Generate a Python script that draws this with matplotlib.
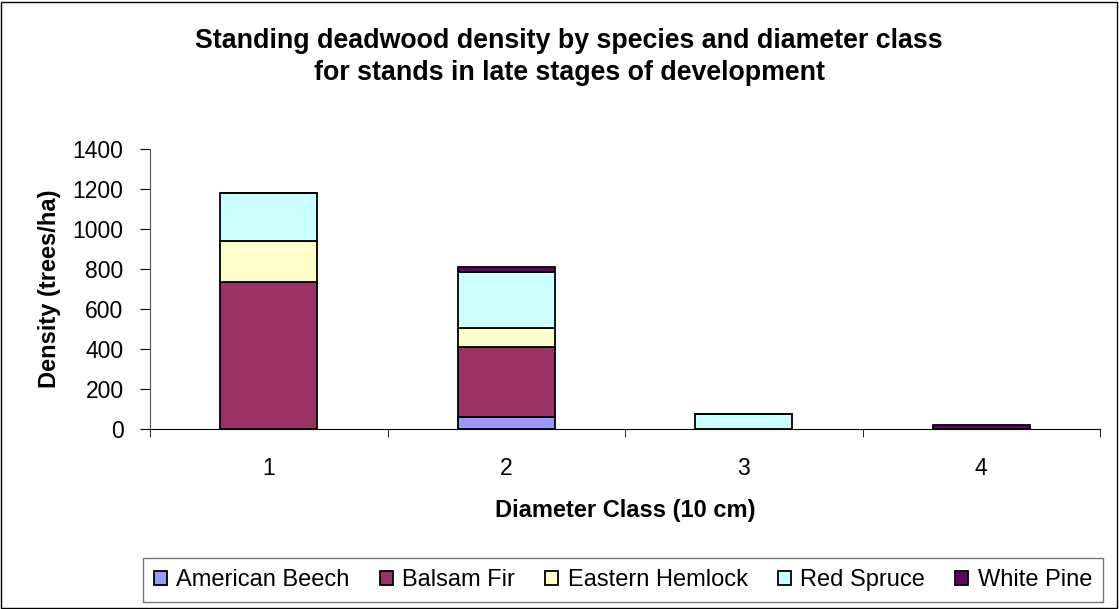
import numpy as np
from matplotlib import pyplot as plt
from matplotlib.patches import Rectangle

plt.rcParams['font.family'] = ['Liberation Sans', 'DejaVu Sans']

classes = ['1', '2', '3', '4']
species = ['American Beech', 'Balsam Fir', 'Eastern Hemlock', 'Red Spruce', 'White Pine']
beech = [0, 60, 0, 0]
balsam = [735, 350, 0, 0]
hemlock = [205, 95, 0, 0]
spruce = [240, 280, 75, 0]
wpine = [0, 25, 0, 22]
colors = ['#9999FF', '#993366', '#FFFFCC', '#CCFFFF', '#660066']

fig = plt.figure(figsize=(11.19, 6.09), dpi=100)
fig.patches.append(Rectangle((0.001, 0.002), 0.997, 0.995, transform=fig.transFigure,
                             fill=False, edgecolor='black', linewidth=1))
ax = fig.add_axes([150 / 1119, 1 - 429 / 609, 950 / 1119, 280 / 609])

x = np.arange(len(classes))
bottom = np.zeros(len(classes))
for name, vals, c in zip(species, [beech, balsam, hemlock, spruce, wpine], colors):
    ax.bar(x, vals, width=0.41, bottom=bottom, color=c, edgecolor='black',
           linewidth=1.3, label=name)
    bottom += np.array(vals)

ax.set_xlim(-0.5, 3.5)
ax.set_ylim(0, 1400)
ax.set_yticks(range(0, 1401, 200))
ax.set_xticks(x)
ax.set_xticklabels(classes)
ax.set_xticks(np.arange(-0.5, 4, 1), minor=True)
ax.tick_params(axis='x', which='major', length=0, labelsize=16.5, pad=20)
ax.tick_params(axis='x', which='minor', length=6, direction='out')
ax.tick_params(axis='y', labelsize=16.5, length=7, pad=12)
ax.spines['top'].set_visible(False)
ax.spines['right'].set_visible(False)
ax.spines['left'].set_color('#555555')
ax.set_xlabel('Diameter Class (10 cm)', fontsize=17, fontweight='bold', labelpad=14)
ax.set_ylabel('Density (trees/ha)', fontsize=17, fontweight='bold', labelpad=8)

fig.text(569 / 1119, 1 - 57 / 609, 'Standing deadwood density by species and diameter class\nfor stands in late stages of development',
         ha='center', va='center', fontsize=19.3, fontweight='bold', linespacing=1.25)

leg = fig.legend(loc='center', bbox_to_anchor=(623 / 1119, 1 - 580 / 609), ncol=5,
                 fontsize=17, frameon=True, fancybox=False, edgecolor='#555555',
                 handlelength=0.55, handleheight=0.55, handletextpad=0.4, columnspacing=1.28,
                 borderpad=0.45, borderaxespad=0)
leg.get_frame().set_linewidth(1)

fig.savefig('out.png', dpi=100)
